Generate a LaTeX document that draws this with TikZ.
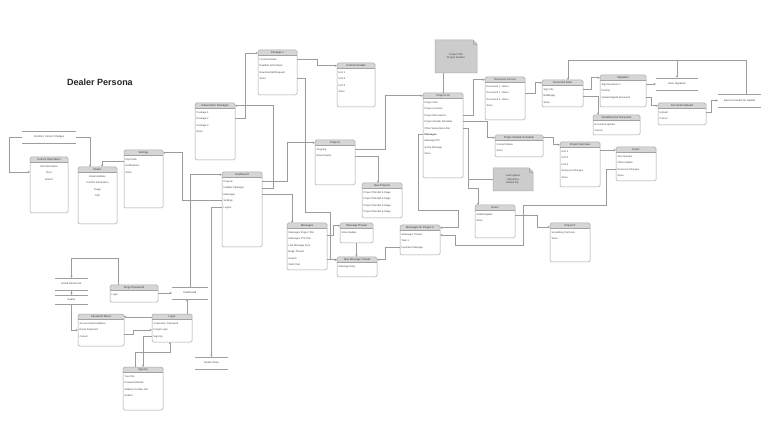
\documentclass[tikz,border=0pt]{standalone}
\usepackage{fontspec}
\setmainfont{Liberation Sans}
\usetikzlibrary{calc,arrows.meta}
\tikzset{
 ebox/.style={inner sep=0pt, outer sep=0pt},
 bline/.style={draw=gray!72, line width=0.5pt},
 hdr/.style={fill=gray!32},
 htxt/.style={font=\fontsize{2.7pt}{3pt}\selectfont, text=black!80, inner sep=0pt},
 itxt/.style={font=\fontsize{2.5pt}{6.4pt}\selectfont, text=black!75, inner sep=0pt},
 conn/.style={draw=gray!78, line width=0.5pt},
 arr/.style={-{Stealth[length=2.4pt,width=2.2pt]}},
 storeline/.style={draw=gray!75, line width=0.55pt},
 stxt/.style={font=\fontsize{2.6pt}{3.4pt}\selectfont, text=black!75, inner sep=0pt, outer sep=0pt},
 notebox/.style={fill=gray!40, draw=gray!65, line width=0.5pt},
}
\newcommand\entbase[6]{%
 \node[ebox, minimum width=#4pt, minimum height=#5pt, anchor=north west] (#1) at (#2,#3) {};
 \fill[white, rounded corners=1.5pt] (#1.north west) rectangle (#1.south east);
 \begin{scope}
 \clip[rounded corners=1.5pt] (#1.north west) rectangle (#1.south east);
 \fill[hdr] (#1.north west) rectangle ([yshift=-5.5pt]#1.north east);
 \end{scope}
 \draw[bline] ([yshift=-5.5pt]#1.north west) -- ([yshift=-5.5pt]#1.north east);
 \draw[bline, rounded corners=1.5pt] (#1.north west) rectangle (#1.south east);
 \node[htxt] (#1-h) at ([yshift=-2.75pt]#1.north) {#6};
}
\newcommand\entity[7]{%
 \entbase{#1}{#2}{#3}{#4}{#5}{#6}%
 \node[itxt, align=left, anchor=north west] (#1-i) at ([xshift=1.5pt,yshift=-8.5pt]#1.north west) {#7};
}
\newcommand\entityc[7]{%
 \entbase{#1}{#2}{#3}{#4}{#5}{#6}%
 \node[itxt, align=center, anchor=north] (#1-i) at ([yshift=-8.5pt]#1.north) {#7};
}
\newcommand\dstore[6]{%
 \node[stxt, minimum width=#4pt, minimum height=#5pt, anchor=north west] (#1) at (#2,#3) {#6};
 \draw[storeline] (#1.north west) -- (#1.north east) (#1.south west) -- (#1.south east);
}
\newcommand\notebx[6]{%
 \filldraw[notebox] (#2,#3) -- ({#2+#4-4},#3) -- ({#2+#4},{#3+4}) -- ({#2+#4},{#3+#5}) -- (#2,{#3+#5}) -- cycle;
 \draw[gray!65, line width=0.45pt] ({#2+#4-4},#3) -- ({#2+#4-4},{#3+4}) -- ({#2+#4},{#3+4});
 \node[ebox, minimum width=#4pt, minimum height=#5pt, anchor=north west] (#1) at (#2,#3) {};
 \node[stxt, align=center] (#1-t) at (#1.center) {#6};
}
\begin{document}
\begin{tikzpicture}[x=1pt, y=-1pt]
\fill[white] (0,0) rectangle (768,438);
\useasboundingbox (0,0) rectangle (768,438);

\node[font=\fontsize{9pt}{11pt}\selectfont\bfseries, text=black!85] (title) at (100,82) {Dealer Persona};

% ---- entities ----
\entityc{curinfo}{30}{157}{38}{56}{Current Information}{Visit Information\\Store\\Search}
\entityc{dealer}{78}{167}{39}{57}{Dealer}{Email Address\\Confirm Information\\Image\\Title}
\entity{settings}{124}{150}{39}{58}{Settings}{My Profile\\Notifications\\Store}
\entity{subpack}{195}{103}{40}{57}{Subscription Packages}{Package 1\\Package 2\\Package 3\\Store}
\entity{pack1}{258}{50}{39}{45}{Package 1}{List Information\\Deadline Information\\New Box/Skill Request\\Store}
\entity{contract}{337}{63}{38}{44}{Contract Details}{Unit 1\\Unit 2\\Unit 3\\Store}
\entity{projects}{315}{140}{40}{45}{Projects}{Ongoing\\New Projects}
\entity{dashboard}{222}{172}{40}{75}{Dashboard}{Projects\\Installer Packages\\Messages\\Settings\\Logout}
\entity{projlist}{423}{93}{40}{85}{Project List}{Project Title\\Project Location\\Project Documents\\Project Unable Schedule\\Other Subscription File\\\textbf{Messages}\\Message PTF\\Some Message\\Store}
\entity{docaccess}{485}{77}{40}{43}{Document Access}{Document 1 - Menu\\Document 2 - Menu\\Document 3 - Menu\\Store}
\entity{docdata}{542}{80}{41}{27}{Document Data}{Sign Info\\Edit/Reply\\Store}
\entity{schedule}{495}{135}{48}{22}{Project Unable Schedule}{Current Status\\Store}
\entity{overview}{560}{142}{40}{45}{Project Overview}{Unit 1\\Unit 2\\Unit 3\\Resource Changes\\Store}
\entity{users2}{616}{147}{40}{34}{Users}{Site Operator\\Other Update\\Resource Changes\\Store}
\entity{signature}{600}{75}{46}{32}{Signature}{Sign Document 1\\Decline\\Upload Signed Document}
\entity{docupload}{658}{103}{48}{22}{Document Upload}{Upload\\Cancel}
\entity{sendrecv}{593}{115}{47}{20}{Send/Receive Document}{Document Upload\\Cancel}
\entity{messages}{287}{223}{40}{47}{Messages}{Messages Project Title\\Messages PTF Title\\Last Message Sent\\Begin Thread\\Search\\Start Chat}
\entity{mthread}{340}{223}{33}{20}{Message Thread}{Store Update}
\entity{newthread}{337}{257}{40}{20}{New Message Thread}{Message Entry}
\entity{newproj}{362}{183}{40}{35}{New Projects}{Project Title Bid \& Stage\\Project Title Bid \& Stage\\Project Title Bid \& Stage\\Project Title Bid \& Stage}
\entity{msgproj}{400}{225}{40}{30}{Messages for Project X}{Messages Thread\\Task 1\\Favorites Message}
\entity{users}{475}{205}{40}{33}{Users}{Add/Complete\\Store}
\entity{projx}{550}{223}{40}{39}{Project X}{Something Text Here\\Store}
\entity{forgot}{110}{285}{48}{17}{Forgot Password}{Login}
\entity{pwreset}{78}{314}{46}{32}{Password Reset}{Account Email Address\\Reset Password\\Cancel}
\entity{login}{152}{314}{40}{28}{Login}{Username / Password\\Forgot Login\\Sign Up}
\entity{signup}{123}{367}{40}{43}{Sign Up}{Your Info\\Password Needs\\Address Contact Info\\Submit}

% ---- data stores ----
\dstore{confirm}{22}{131}{54}{12}{Confirm / Correct Charges}
\dstore{savesig}{656}{78}{42}{12}{Save Signature}
\dstore{savedoc}{718}{94}{43}{13}{Save Document for Upload}
\dstore{email}{55}{278}{33}{12}{Email Reset Link}
\dstore{dealerst}{55}{295}{33}{9}{Dealer}
\dstore{dashstore}{172}{287}{36}{12}{Dashboard}
\dstore{dstore}{195}{357}{33}{12}{Dealer Store}

% ---- notes ----
\notebx{note1}{435}{40}{42}{33}{Project Title\\Project Number}
\notebx{note2}{493}{168}{40}{23}{Last Update\\Reporting\\Viewed By...}

% ---- connectors ----
\draw[conn,arr] ($(subpack.north east)+(0,15)$) -- ++(10,0) |- ($(pack1.north west)+(0,3)$);
\draw[conn,arr] ($(pack1.north east)+(0,9.5)$) -- ++(20,0) |- ($(contract.north west)+(0,2.75)$);
\draw[conn,arr] ($(pack1.north east)+(0,28.7)$) -- ++(8,0) -- ++(0,133.3) -- ++(25,0) |- ($(newthread.north west)+(0,2.75)$);
\draw[conn,arr] ($(messages.north east)+(0,36.75)$) -- ($(newthread.north west)+(0,2.75)$);
\draw[conn,arr] ($(messages.north east)+(0,12)$) -- ++(6,0) |- ($(mthread.north west)+(0,2.75)$);
\draw[conn,arr] (mthread.south) -- (mthread.south |- newthread.north);
\draw[conn,arr] ($(dashboard.north east)+(0,15.9)$) -- ++(11,0) |- ($(subpack.north east)+(0,2.75)$);
\draw[conn,arr] ($(dashboard.north east)+(0,9.5)$) -- ++(25,0) |- ($(projects.north west)+(0,2.75)$);
\draw[conn,arr] ($(dashboard.north east)+(0,22.3)$) -| ($(messages.north west)+(5,0)$);
\draw[conn,arr] ($(dashboard.north west)+(0,35.1)$) -| (dstore.north);
\draw[conn,arr] ($(dashboard.north west)+(0,28.7)$) -- ++(-40,0) |- ($(settings.north east)+(0,2.75)$);
\draw[conn,arr] (dashstore.north) |- ($(dashboard.north west)+(0,2.75)$);
\draw[conn,arr] ($(settings.north west)+(0,11)$) -| ($(dealer.north)+(4.5,0)$);
\draw[conn,arr] (confirm.west) -- ++(-13,0) |- ($(curinfo.north west)+(0,15)$);
\draw[conn,arr] (confirm.east) -| ($(dealer.north)+(-7.5,0)$);
\draw[conn,arr] ($(projects.north east)+(0,9.5)$) -- ++(30,0) |- ($(projlist.north west)+(0,2.75)$);
\draw[conn,arr] ($(projects.north east)+(0,15.9)$) -| ($(newproj.north)+(-4,0)$);
\draw[conn,arr] ($(projlist.north west)+(0,41.5)$) -- ++(-5,0) -- ++(0,75.5) -- ++(40,0) |- ($(msgproj.north east)+(0,2.75)$);
\draw[conn,arr] ($(projlist.north east)+(0,35.1)$) -- ++(5,0) -- ++(0,59.9) -| ($(users.north west)+(3,0)$);
\coordinate (j1) at (note2.west -| 468,0);
\draw[conn] (j1) -- (note2.west);
\draw[conn,arr] ($(users2.north west)+(0,22.3)$) -- ++(-10,0) -- ++(0,35.7) -- ++(-83,0) -- ++(0,40) -- ++(-68,0) |- ($(msgproj.north east)+(0,10)$);
\draw[conn,arr] ($(users.north east)+(0,10)$) -- ++(22,0) |- ($(projx.north west)+(0,4)$);
\draw[conn,arr] ($(msgproj.north west)+(0,22.3)$) -- ++(-15,0) |- ($(newthread.north east)+(0,2.75)$);
\draw[conn,arr] ($(projlist.north east)+(0,22.3)$) -- ++(10,0) |- ($(docaccess.north west)+(0,2.75)$);
\draw[conn,arr] ($(projlist.north east)+(0,28.7)$) -- ++(24,0) |- ($(schedule.north west)+(0,2.75)$);
\draw[conn] (note1.south -| projlist.north) -- (projlist.north);
\draw[conn,arr] ($(docaccess.north east)+(0,15.9)$) -- ++(10,0) |- ($(docdata.north west)+(0,2.75)$);
\draw[conn,arr] ($(schedule.north east)+(0,2.75)$) -- ++(10,0) |- ($(overview.north west)+(0,2.75)$);
\draw[conn,arr] ($(overview.north east)+(0,8)$) -- ($(users2.north west)+(0,3)$);
\draw[conn,arr] ($(docdata.north east)+(0,9.5)$) -- ++(8,0) |- ($(signature.north west)+(0,2.75)$);
\draw[conn,arr] ($(docdata.north east)+(0,15.9)$) -| ($(sendrecv.north west)+(5,0)$);
\draw[conn,arr] ($(signature.north east)+(0,9)$) -- (savesig.west);
\draw[conn,arr] ($(signature.north east)+(0,22.3)$) -- ++(5,0) |- ($(docupload.north west)+(0,2.75)$);
\draw[conn,arr] ($(docupload.north east)+(0,9.5)$) -- ++(5,0) |- (savedoc.west);
\draw[conn,arr] ($(savedoc.north)+(6.5,0)$) -- ++(0,-34) -| ($(docdata.north)+(5.5,0)$);
\draw[conn,arr] (savesig.north |- 0,60) -- (savesig.north);
\draw[conn,arr] ($(forgot.north west)+(8,0)$) -- ++(0,-27) -| (email.north);
\draw[conn,arr] (email.south) -- (dealerst.north);
\draw[conn,arr] (dealerst.south) |- ($(pwreset.north west)+(0,16)$);
\draw[conn,arr] ($(forgot.north east)+(0,8)$) -- (dashstore.west);
\draw[conn,arr] ($(login.north west)+(35,0)$) -- ($(dashstore.south)+(-3,0)$);
\draw[conn,arr] ($(login.north west)+(0,2.75)$) -- ($(pwreset.north east)+(0,2.75)$);
\draw[conn,arr] ($(pwreset.north east)+(0,20)$) -- ++(9,0) |- ($(login.north west)+(0,15.9)$);
\draw[conn,arr] ($(login.north west)+(0,22.3)$) -| (signup.north);
\draw[conn,arr] ($(signup.north)+(-8,0)$) -- ++(0,-15) -| ($(login.south)+(-2,0)$);
\end{tikzpicture}
\end{document}
